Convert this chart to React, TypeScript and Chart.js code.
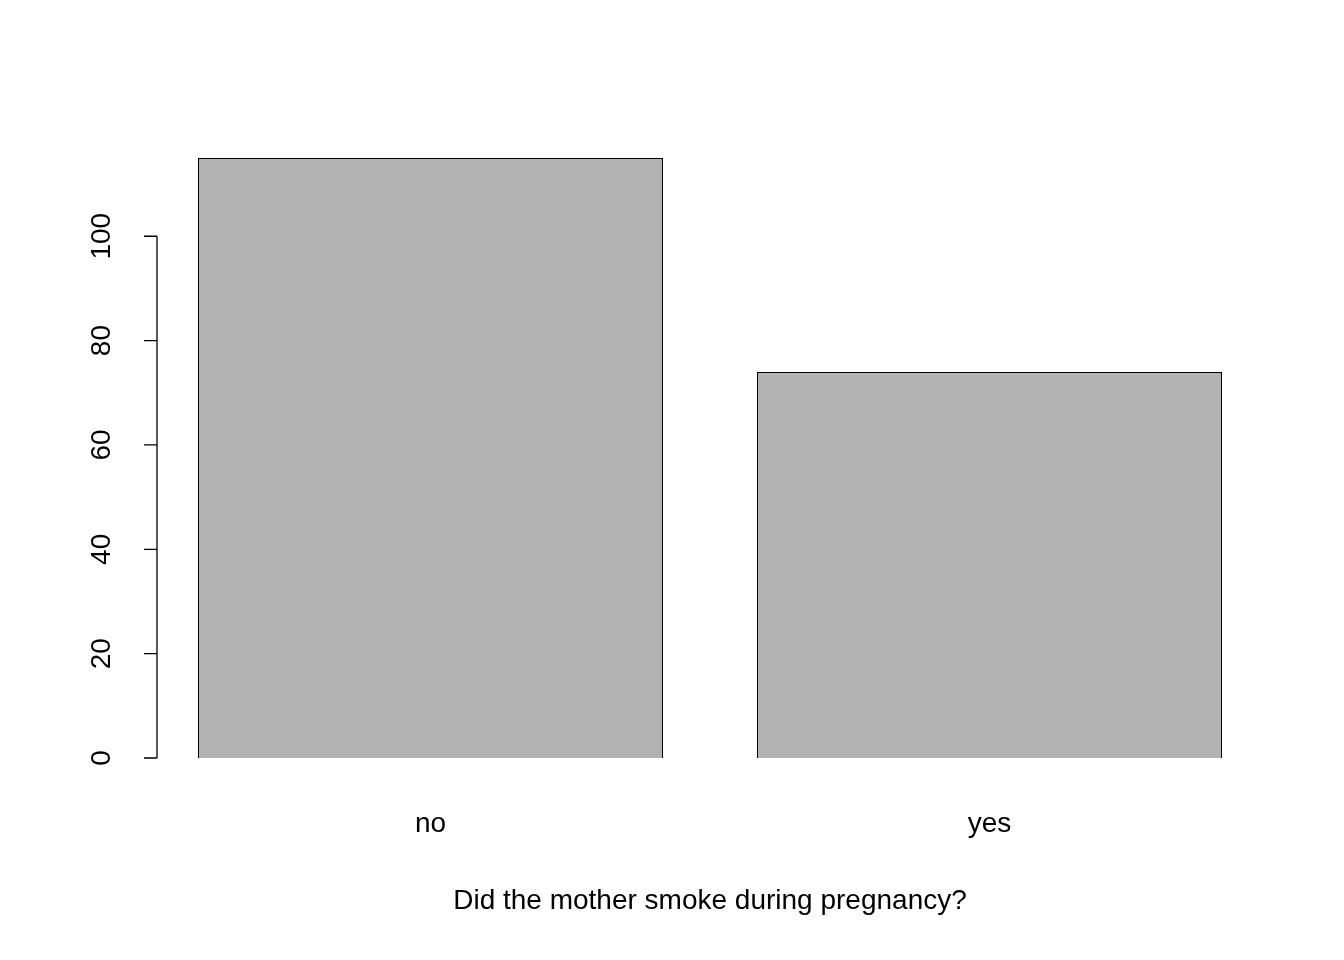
import React, { useEffect, useRef } from 'react';
import { Chart, registerables } from 'chart.js';

Chart.register(...registerables);

const categories = ['no', 'yes'];
const counts = [115, 74];
const yTicks = [0, 20, 40, 60, 80, 100];
const xTitle = 'Did the mother smoke during pregnancy?';

const FONT = '"Liberation Sans", Arial, sans-serif';

// R-style axes drawn by hand
const baseAxes = {
  id: 'baseAxes',
  afterDraw(chart: any) {
    const { ctx, scales } = chart;
    const y = scales.y;
    const x = scales.x;
    const axisX = 157;
    ctx.save();
    ctx.strokeStyle = '#000';
    ctx.lineWidth = 1.3;
    ctx.fillStyle = '#000';
    ctx.font = `28px ${FONT}`;
    const top = y.getPixelForValue(yTicks[yTicks.length - 1]);
    const bottom = y.getPixelForValue(yTicks[0]);
    ctx.beginPath();
    ctx.moveTo(axisX, top);
    ctx.lineTo(axisX, bottom);
    yTicks.forEach((t) => {
      const py = y.getPixelForValue(t);
      ctx.moveTo(axisX, py);
      ctx.lineTo(axisX - 13, py);
    });
    ctx.stroke();
    yTicks.forEach((t) => {
      const py = y.getPixelForValue(t);
      ctx.save();
      ctx.translate(110, py);
      ctx.rotate(-Math.PI / 2);
      ctx.textAlign = 'center';
      ctx.textBaseline = 'alphabetic';
      ctx.fillText(String(t), 0, 0);
      ctx.restore();
    });
    ctx.textAlign = 'center';
    ctx.textBaseline = 'middle';
    categories.forEach((c, i) => {
      ctx.fillText(c, x.getPixelForValue(i), 824);
    });
    ctx.fillText(xTitle, 710, 901);
    ctx.restore();
  },
};

export default function App() {
  const canvasRef = useRef<HTMLCanvasElement>(null);
  const chartRef = useRef<Chart | null>(null);

  useEffect(() => {
    if (!canvasRef.current) return;
    if (chartRef.current) chartRef.current.destroy();
    chartRef.current = new Chart(canvasRef.current, {
      type: 'bar',
      data: {
        labels: categories,
        datasets: [
          {
            data: counts,
            backgroundColor: '#b2b2b2',
            borderColor: '#000',
            borderWidth: 1.3,
            barPercentage: 0.832,
            categoryPercentage: 1,
          },
        ],
      },
      options: {
        animation: false,
        responsive: false,
        maintainAspectRatio: false,
        layout: { padding: { left: 151, right: 75, top: 134, bottom: 178 } },
        plugins: { legend: { display: false }, tooltip: { enabled: false } },
        scales: {
          x: { display: false },
          y: { display: false, min: -4.6, max: 119.6 },
        },
      },
      plugins: [baseAxes],
    });
    return () => {
      chartRef.current?.destroy();
      chartRef.current = null;
    };
  }, []);

  return (
    <div style={{ position: 'absolute', left: 0, top: 0, width: 1344, height: 960, background: '#fff' }}>
      <canvas ref={canvasRef} width={1344} height={960} />
    </div>
  );
}
